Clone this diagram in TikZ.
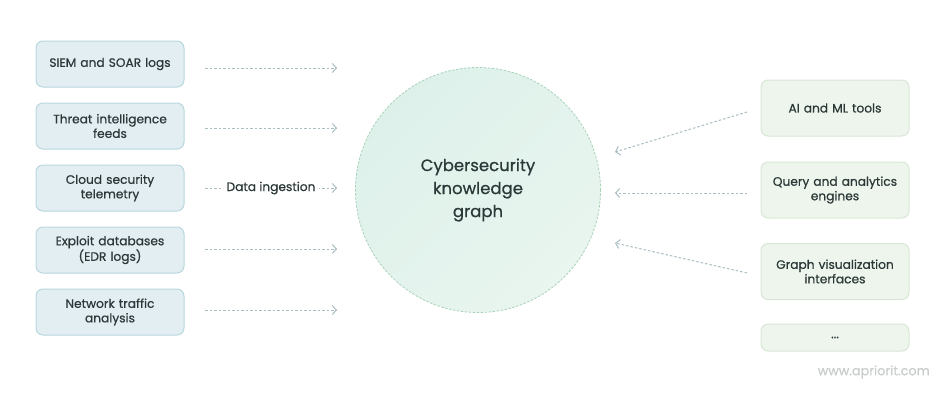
\documentclass[tikz,border=0pt]{standalone}
\usepackage{fontspec}
\setmainfont{Poppins}[UprightFeatures={FakeBold=0.6}]
\usetikzlibrary{arrows.meta}
\definecolor{txt}{HTML}{2B3838}
\definecolor{lfill}{HTML}{E3EEF3}
\definecolor{ldraw}{HTML}{B8D7DF}
\definecolor{rfill}{HTML}{EEF5EC}
\definecolor{rdraw}{HTML}{D8E7D5}
\definecolor{arr}{HTML}{A9BDC2}
\definecolor{cfillA}{HTML}{DDF1EA}
\definecolor{cfillB}{HTML}{E9F5EF}
\definecolor{cdraw}{HTML}{A9D3B8}
\definecolor{wm}{HTML}{C9CCCC}
\tikzset{
  srcbox/.style={draw=ldraw, fill=lfill, line width=1pt, rounded corners=7pt,
    minimum width=148pt, minimum height=46pt, text width=140pt, align=center,
    font=\fontsize{12.2pt}{14.5pt}\selectfont, text=txt},
  toolbox/.style={draw=rdraw, fill=rfill, line width=1pt, rounded corners=7pt,
    minimum width=148pt, minimum height=56pt, text width=140pt, align=center,
    font=\fontsize{12.2pt}{14.5pt}\selectfont, text=txt},
  flow/.style={draw=arr, line width=1pt, dash pattern=on 2.5pt off 2pt,
    -{Straight Barb[length=4pt,width=9pt,line width=1pt]}},
}
\begin{document}
\begin{tikzpicture}[x=1pt,y=-1pt]
\useasboundingbox (0,0) rectangle (950,400);
% left sources
\node[srcbox] (s1) at (110,64) {SIEM and SOAR logs};
\node[srcbox] (s2) at (110,126) {Threat intelligence\\feeds};
\node[srcbox] (s3) at (110,188) {Cloud security\\telemetry};
\node[srcbox] (s4) at (110,250) {Exploit databases\\(EDR logs)};
\node[srcbox] (s5) at (110,312) {Network traffic\\analysis};
% central circle
\node[circle, minimum size=245pt, draw=cdraw, line width=0.8pt,
  dash pattern=on 2.5pt off 1.5pt,
  left color=cfillA, right color=cfillB, shading angle=45,
  align=center, text=txt, font=\fontsize{16.5pt}{23pt}\selectfont] (kg) at (478,190)
  {Cybersecurity\\knowledge\\graph};
% right tools
\node[toolbox] (t1) at (835,108) {AI and ML tools};
\node[toolbox] (t2) at (835,190) {Query and analytics\\engines};
\node[toolbox] (t3) at (835,271.5) {Graph visualization\\interfaces};
\node[toolbox, minimum height=27pt] (t4) at (835,337.5) {...};
% arrow ends
\coordinate (a1s) at (205,68);  \coordinate (a1e) at (337,68);
\coordinate (a2s) at (205,128); \coordinate (a2e) at (337,128);
\coordinate (a3s) at (205,188); \coordinate (a3e) at (337,188);
\coordinate (a4s) at (205,249); \coordinate (a4e) at (337,249);
\coordinate (a5s) at (205,310); \coordinate (a5e) at (337,310);
\draw[flow] (a1s) -- (a1e);
\draw[flow] (a2s) -- (a2e);
\draw[flow] (a3s) -- node[fill=white, text=txt, inner xsep=4pt,
  font=\fontsize{12.2pt}{13pt}\selectfont] (lbl) {Data ingestion} (a3e);
\draw[flow] (a4s) -- (a4e);
\draw[flow] (a5s) -- (a5e);
\coordinate (b1s) at (747,112); \coordinate (b1e) at (615,152);
\coordinate (b2s) at (747,193); \coordinate (b2e) at (615,193);
\coordinate (b3s) at (747,273); \coordinate (b3e) at (615,243);
\draw[flow] (b1s) -- (b1e);
\draw[flow] (b2s) -- (b2e);
\draw[flow] (b3s) -- (b3e);
\node[text=wm, font=\fontsize{12.8pt}{13pt}\selectfont, anchor=east, inner sep=0pt] (wmk) at (930,372) {www.apriorit.com};
\end{tikzpicture}
\end{document}
